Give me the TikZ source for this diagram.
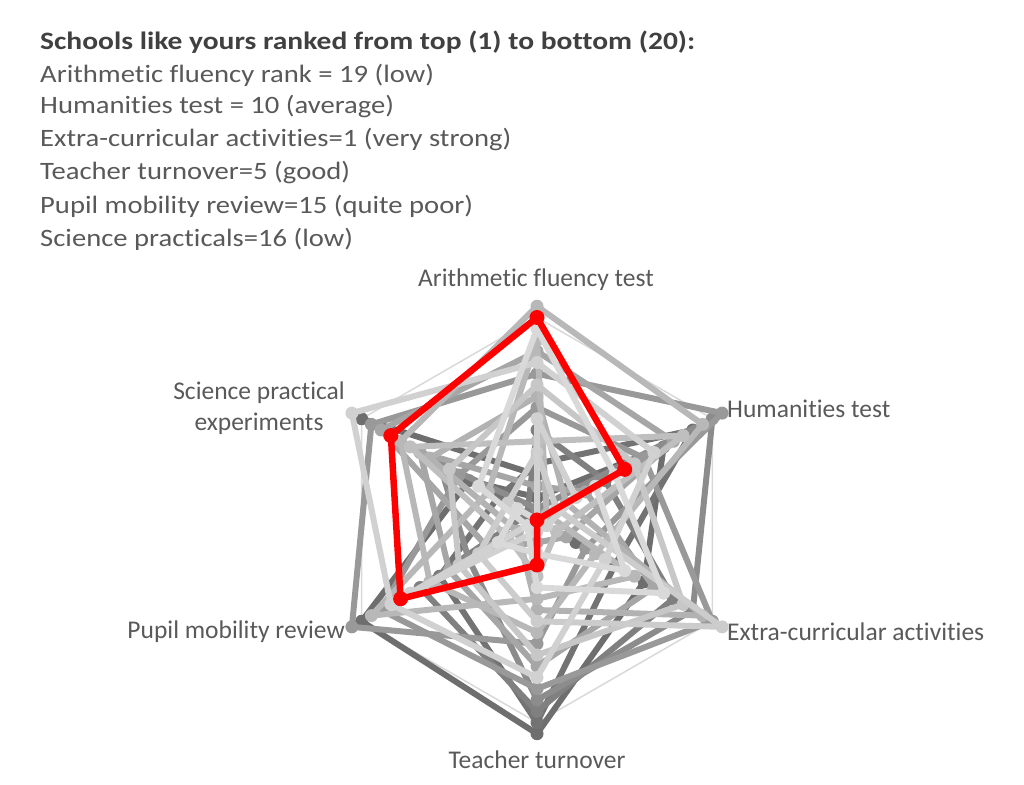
\documentclass[tikz,border=0pt]{standalone}
\usepackage{fontspec}
\setmainfont{Carlito}[Ligatures=NoCommon]
\newfontfamily\infofont{Carlito}[FakeStretch=1.145, Ligatures=NoCommon]
\newfontfamily\titlefont{Carlito}[FakeStretch=1.18, Ligatures=NoCommon]
\usepackage{tikz}
\definecolor{txtgrey}{HTML}{595959}
\definecolor{titlegrey}{HTML}{404040}
\definecolor{gridgrey}{HTML}{D9D9D9}
\newcommand{\rk}{11.25}

\begin{document}
\begin{tikzpicture}[x=1pt,y=1pt,
    axislabel/.style={text=txtgrey, font=\fontsize{25.5}{31}\selectfont, inner sep=0pt},
    infoline/.style={text=txtgrey, font=\infofont\fontsize{25}{28}\selectfont, anchor=west, inner sep=0pt},
    school/.style={line width=6, line join=round}]
    \useasboundingbox (0,0) rectangle (1024,784);
    % Draw the title and the ranks
    \node[infoline, text=titlegrey, font=\titlefont\bfseries\fontsize{25}{28}\selectfont] (title) at (40,742) {Schools like yours ranked from top (1) to bottom (20):};
    \node[infoline] (rankA) at (40,709) {Arithmetic fluency rank = 19 (low)};
    \node[infoline] (rankH) at (40,677) {Humanities test = 10 (average)};
    \node[infoline] (rankE) at (40,644) {Extra-curricular activities=1 (very strong)};
    \node[infoline] (rankT) at (40,611) {Teacher turnover=5 (good)};
    \node[infoline] (rankP) at (40,578) {Pupil mobility review=15 (quite poor)};
    \node[infoline] (rankS) at (40,545) {Science practicals=16 (low)};
    % Draw the axis labels
    \node[axislabel] (labA) at (536,504) {Arithmetic fluency test};
    \node[axislabel, anchor=west] (labH) at (727,375) {Humanities test};
    \node[axislabel, anchor=west] (labE) at (727,152) {Extra-curricular activities};
    \node[axislabel] (labT) at (537,24) {Teacher turnover};
    \node[axislabel, anchor=east] (labP) at (345,152) {Pupil mobility review};
    \node[axislabel, align=center] (labS) at (259,376) {Science practical\\experiments};
    \begin{scope}[shift={(537,264)}]
        % Draw the grid
        \draw[gridgrey, line width=1.5] (90:202.5) -- (30:202.5) -- (-30:202.5) -- (-90:202.5) -- (210:202.5) -- (150:202.5) -- cycle;
        % Draw the other schools
        \foreach \s/\a/\h/\e/\t/\p/\q in {57/5/1/5/1/1/19, 57/3/14/12/20/19/8, 55/6/17/9/19/11/5,
            50/9/8/15/18/13/2, 45/2/19/17/17/8/11, 40/14/20/6/12/20/18, 40/11/12/19/16/17/9,
            35/16/15/4/3/6/17, 35/4/6/13/14/10/13, 30/12/4/18/9/3/12, 28/20/18/7/11/12/15,
            28/17/2/11/8/18/6, 25/8/16/3/6/4/14, 22/13/11/16/13/9/10, 20/7/3/20/10/7/4,
            18/15/13/8/15/16/20, 18/10/5/2/2/14/1, 15/18/9/14/7/2/7, 15/1/7/10/4/5/3}{
            \draw[school, black!\s] (90:{(\a-1)*\rk}) -- (30:{(\h-1)*\rk}) -- (-30:{(\e-1)*\rk})
                -- (-90:{(\t-1)*\rk}) -- (210:{(\p-1)*\rk}) -- (150:{(\q-1)*\rk}) -- cycle;
            \foreach \ang/\v in {90/\a, 30/\h, -30/\e, -90/\t, 210/\p, 150/\q}
                \fill[black!\s] (\ang:{(\v-1)*\rk}) circle (6.5);
        }
        % Draw our school in red
        \draw[red, line width=6.5, line join=round] (90:{18*\rk}) -- (30:{9*\rk}) -- (-30:0)
            -- (-90:{4*\rk}) -- (210:{14*\rk}) -- (150:{15*\rk}) -- cycle;
        \foreach \ang/\v in {90/19, 30/10, -30/1, -90/5, 210/15, 150/16}
            \fill[red] (\ang:{(\v-1)*\rk}) circle (7.5);
    \end{scope}
\end{tikzpicture}
\end{document}
